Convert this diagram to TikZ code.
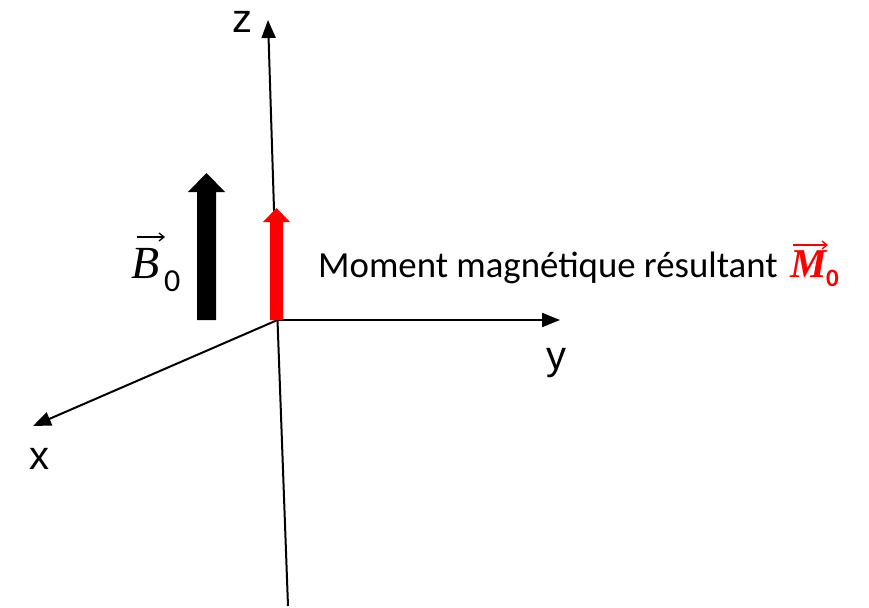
\documentclass[tikz,border=0pt]{standalone}
\usepackage{fontspec}
\setmainfont{Carlito}
\newfontfamily\axfont{Liberation Sans}
\newfontfamily\serifit{Liberation Serif}
\usetikzlibrary{arrows.meta}
\definecolor{magred}{RGB}{255,0,0}
\tikzset{
  axis/.style={line width=2pt,-{Triangle[length=18pt,width=14pt]}},
  axlabel/.style={font=\axfont\fontsize{40}{44}\selectfont,inner sep=0pt,anchor=base},
  smallarrow/.style={line width=1.3pt,-{Straight Barb[length=5pt,width=8pt]}}
}
\begin{document}
\begin{tikzpicture}[x=1pt,y=-1pt]
\useasboundingbox (0,0) rectangle (869,607);
\coordinate (O) at (277.5,320);
\coordinate (ztop) at (268,20);
\coordinate (zbot) at (288,606);
\coordinate (yend) at (560,320);
\coordinate (xend) at (33,426);
% axes
\draw[line width=2pt] (zbot) -- (O);
\draw[axis] (O) -- (ztop);
\draw[axis] (O) -- (yend);
\draw[axis] (O) -- (xend);
\node[axlabel] (zl) at (242,33) {z};
\node[axlabel] (yl) at (556,369) {y};
\node[axlabel] (xl) at (39,469) {x};
% B0 arrow
\fill[black] (197,320) -- (216,320) -- (216,192) -- (225,192) -- (206.5,173) -- (188,192) -- (197,192) -- cycle;
% M0 arrow
\fill[magred] (270,320) -- (283,320) -- (283,222) -- (290,222) -- (276.5,208) -- (263,222) -- (270,222) -- cycle;
% B0 label
\node[inner sep=0pt,anchor=base west] (B) at (131,278) {\serifit\itshape\fontsize{46}{48}\selectfont B};
\node[inner sep=0pt,anchor=base west] (B0) at (164,291) {\fontsize{32}{36}\selectfont 0};
\coordinate (Ba) at (137,237);
\coordinate (Bb) at (165,237);
\draw[smallarrow] (Ba) -- (Bb);
% text
\node[inner sep=0pt,anchor=base west] (txt) at (318,277) {\fontsize{36.8}{40}\selectfont Moment magnétique résultant};
\node[inner sep=0pt,anchor=base west,text=magred] (M) at (790,277) {\serifit\bfseries\itshape\fontsize{41}{44}\selectfont M};
\node[inner sep=0pt,anchor=base west,text=magred] (M0) at (826,286) {\bfseries\fontsize{25}{28}\selectfont 0};
\coordinate (Ma) at (793,245);
\coordinate (Mb) at (828,245);
\draw[smallarrow,magred] (Ma) -- (Mb);
\end{tikzpicture}
\end{document}
